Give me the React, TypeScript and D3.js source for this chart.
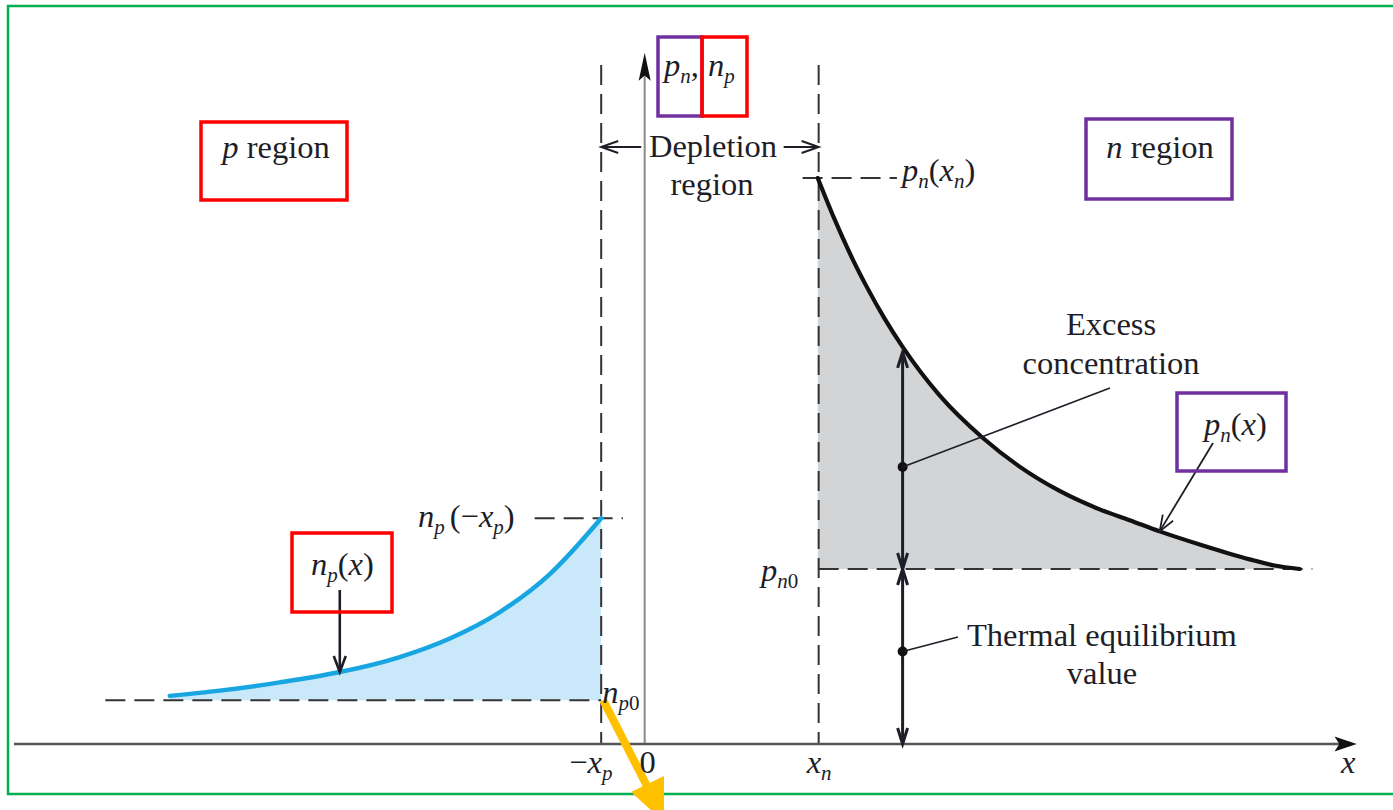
import React from 'react';
import * as d3 from 'd3';

const W = 1393;
const H = 810;

// Depletion-region edges (x) and reference concentrations (arbitrary units)
const edgeP = -0.1; // −x_p
const edgeN = 0.4; // x_n
const npZero = 0.25; // n_p0
const pnZero = 1.0; // p_n0
const npEdge = 1.29; // n_p(−x_p)
const pnEdge = 3.234; // p_n(x_n)

// Minority electrons injected into the p region
const npX = [-1.092, -0.977, -0.839, -0.701, -0.563, -0.448, -0.333, -0.218, -0.1];
const npY = [0.275, 0.305, 0.352, 0.411, 0.497, 0.603, 0.754, 0.971, 1.29];

// Minority holes injected into the n region
const pnX = [0.398, 0.437, 0.478, 0.51, 0.552, 0.593, 0.678, 0.777, 0.862, 0.954, 1.046, 1.115, 1.184, 1.276, 1.391, 1.448, 1.506];
const pnY = [3.234, 2.996, 2.771, 2.615, 2.429, 2.269, 1.992, 1.75, 1.585, 1.446, 1.341, 1.279, 1.215, 1.14, 1.055, 1.02, 1.0];

// Positions where the callouts touch the curves
const npCallIdx = 3; // n_p(x) arrow
const pnCallIdx = 12; // p_n(x) arrow
const excessIdx = 5; // excess / equilibrium double arrows

const FONT = "'Liberation Serif', Tinos, 'Times New Roman', 'DejaVu Serif', serif";
const INK = '#1e1e28';
const RED = '#ff0000';
const PURPLE = '#7030a0';

const x = d3.scaleLinear().domain([-1.45, 1.64]).range([14, 1358]);
const y = d3.scaleLinear().domain([0, 4]).range([744, 44]);

type Pt = [number, number];
const npPts: Pt[] = npX.map((v, i) => [v, npY[i]]);
const pnPts: Pt[] = pnX.map((v, i) => [v, pnY[i]]);

const line = d3
  .line<Pt>()
  .x((d) => x(d[0]))
  .y((d) => y(d[1]))
  .curve(d3.curveMonotoneX);

const npArea = d3
  .area<Pt>()
  .x((d) => x(d[0]))
  .y0(y(npZero))
  .y1((d) => y(d[1]))
  .curve(d3.curveMonotoneX);

const pnArea = d3
  .area<Pt>()
  .x((d) => x(d[0]))
  .y0(y(pnZero))
  .y1((d) => y(d[1]))
  .curve(d3.curveMonotoneX);

function openHead(x1: number, y1: number, x2: number, y2: number, len = 13, half = 5) {
  const a = Math.atan2(y2 - y1, x2 - x1);
  const bx = x2 - len * Math.cos(a);
  const by = y2 - len * Math.sin(a);
  const px = -Math.sin(a) * half;
  const py = Math.cos(a) * half;
  return `M${bx + px},${by + py}L${x2},${y2}L${bx - px},${by - py}`;
}

function Arrow({
  x1, y1, x2, y2, w = 1.6, len = 13, half = 5, both = false,
}: { x1: number; y1: number; x2: number; y2: number; w?: number; len?: number; half?: number; both?: boolean }) {
  return (
    <g stroke={INK} strokeWidth={w} fill="none" strokeLinecap="butt">
      <line x1={x1} y1={y1} x2={x2} y2={y2} />
      <path d={openHead(x1, y1, x2, y2, len, half)} />
      {both && <path d={openHead(x2, y2, x1, y1, len, half)} />}
    </g>
  );
}

const Box = ({ x0, y0, x1, y1, color }: { x0: number; y0: number; x1: number; y1: number; color: string }) => (
  <rect x={x0} y={y0} width={x1 - x0} height={y1 - y0} fill="none" stroke={color} strokeWidth={3.5} />
);

const FS = 32.5;
const SUB = 21;
const DY = 7;

export default function App() {
  const x0 = x(0);
  const yBase = y(0);
  const xP = x(edgeP);
  const xN = x(edgeN);
  const dash = '20 9';
  const mark = pnPts[excessIdx];
  const mx = x(mark[0]);
  const dotTop = (y(mark[1]) + y(pnZero)) / 2 + 9;
  const dotBot = (y(pnZero) + yBase) / 2 - 5;
  const npc = npPts[npCallIdx];
  const pnc = pnPts[pnCallIdx];

  return (
    <svg
      width={W}
      height={H}
      viewBox={`0 0 ${W} ${H}`}
      style={{ position: 'absolute', left: 0, top: 0, background: '#fff', fontFamily: FONT }}
    >
      {/* frame */}
      <rect x={8} y={6} width={1400} height={788} fill="none" stroke="#00b050" strokeWidth={2.5} />

      {/* filled excess-carrier regions */}
      <path d={npArea(npPts) ?? ''} fill="#c9e8f9" />
      <path d={pnArea(pnPts) ?? ''} fill="#d3d4d6" />

      {/* dashed guides */}
      <g stroke="#333" strokeWidth={2} strokeDasharray={dash} fill="none">
        <line x1={xP} y1={y(3.88)} x2={xP} y2={yBase} />
        <line x1={xN} y1={y(3.88)} x2={xN} y2={yBase} />
        <line x1={x(-1.24)} y1={y(npZero)} x2={xP} y2={y(npZero)} />
        <line x1={x(-0.253)} y1={y(npEdge)} x2={x(-0.05)} y2={y(npEdge)} />
        <line x1={x(0.363)} y1={y(pnEdge)} x2={x(0.58)} y2={y(pnEdge)} />
        <line x1={xN} y1={y(pnZero)} x2={x(1.535)} y2={y(pnZero)} />
      </g>

      {/* axes */}
      <line x1={x0} y1={yBase} x2={x0} y2={y(3.86)} stroke="#8a8a8a" strokeWidth={2} />
      <path
        d={`M${x0},${y(3.95)} L${x0 - 6},${y(3.79)} L${x0},${y(3.82)} L${x0 + 6},${y(3.79)} Z`}
        fill="#111"
      />
      <line x1={x(-1.45)} y1={yBase} x2={x(1.6)} y2={yBase} stroke="#555" strokeWidth={2.5} />
      <path
        d={`M${x(1.637)},${yBase} L${x(1.586)},${yBase - 7.5} L${x(1.597)},${yBase} L${x(1.586)},${yBase + 7.5} Z`}
        fill="#111"
      />

      {/* carrier curves */}
      <path d={line(npPts) ?? ''} fill="none" stroke="#17a6e2" strokeWidth={4.5} strokeLinecap="round" />
      <path d={line(pnPts) ?? ''} fill="none" stroke="#111" strokeWidth={4.2} strokeLinecap="round" />

      {/* depletion width arrows */}
      <Arrow x1={xP + 40} y1={147} x2={xP} y2={147} w={2} len={17} half={6} />
      <Arrow x1={xN - 35} y1={147} x2={xN} y2={147} w={2} len={17} half={6} />

      {/* excess and equilibrium double arrows */}
      <Arrow x1={mx} y1={y(pnZero)} x2={mx} y2={y(mark[1]) + 5} w={3} len={16} half={5} both />
      <Arrow x1={mx} y1={y(pnZero)} x2={mx} y2={yBase} w={3} len={16} half={5} both />
      <circle cx={mx} cy={dotTop} r={5} fill="#111" />
      <circle cx={mx} cy={dotBot} r={5} fill="#111" />
      <line x1={mx} y1={dotTop} x2={1110} y2={388} stroke={INK} strokeWidth={1.6} />
      <line x1={mx} y1={dotBot} x2={958} y2={637} stroke={INK} strokeWidth={1.6} />

      {/* curve callouts */}
      <Arrow x1={x(npc[0])} y1={590} x2={x(npc[0])} y2={y(npc[1])} w={2.6} len={16} half={6} />
      <Arrow x1={1213} y1={443} x2={x(pnc[0])} y2={y(pnc[1])} w={1.8} len={16} half={6} />

      {/* highlight arrow */}
      <g fill="#ffc000" stroke="none">
        <line x1={xP + 2} y1={y(npZero)} x2={648} y2={788} stroke="#ffc000" strokeWidth={8} />
        <path d="M631,792 L664,776 L664,822 Z" />
      </g>

      {/* text */}
      <g fill={INK} fontSize={FS} style={{ fontFamily: FONT }}>
        <text x={276} y={158} textAnchor="middle">
          <tspan fontStyle="italic">p</tspan> region
        </text>
        <text x={1160} y={158} textAnchor="middle">
          <tspan fontStyle="italic">n</tspan> region
        </text>
        <text x={713} y={157} textAnchor="middle">Depletion</text>
        <text x={712} y={195} textAnchor="middle">region</text>
        <text x={1111} y={335} textAnchor="middle">Excess</text>
        <text x={1111} y={374} textAnchor="middle">concentration</text>
        <text x={967} y={646}>Thermal equilibrium</text>
        <text x={1102} y={684} textAnchor="middle">value</text>

        {/* p_n, n_p */}
        <text x={664} y={76}>
          <tspan fontStyle="italic">p</tspan>
          <tspan fontStyle="italic" fontSize={SUB} dy={DY}>n</tspan>
          <tspan dy={-DY}>, </tspan>
          <tspan x={708} fontStyle="italic">n</tspan>
          <tspan fontStyle="italic" fontSize={SUB} dy={DY}>p</tspan>
        </text>

        {/* p_n(x) */}
        <text x={1204} y={435}>
          <tspan fontStyle="italic">p</tspan>
          <tspan fontStyle="italic" fontSize={SUB} dy={DY}>n</tspan>
          <tspan dy={-DY}>(</tspan>
          <tspan fontStyle="italic">x</tspan>
          <tspan>)</tspan>
        </text>

        {/* n_p(x) */}
        <text x={311} y={575}>
          <tspan fontStyle="italic">n</tspan>
          <tspan fontStyle="italic" fontSize={SUB} dy={DY}>p</tspan>
          <tspan dy={-DY}>(</tspan>
          <tspan fontStyle="italic">x</tspan>
          <tspan>)</tspan>
        </text>

        {/* n_p(−x_p) */}
        <text x={418} y={527}>
          <tspan fontStyle="italic">n</tspan>
          <tspan fontStyle="italic" fontSize={SUB} dy={DY}>p</tspan>
          <tspan dy={-DY} dx={5}>(−</tspan>
          <tspan fontStyle="italic">x</tspan>
          <tspan fontStyle="italic" fontSize={SUB} dy={DY}>p</tspan>
          <tspan dy={-DY}>)</tspan>
        </text>

        {/* p_n(x_n) */}
        <text x={902} y={181}>
          <tspan fontStyle="italic">p</tspan>
          <tspan fontStyle="italic" fontSize={SUB} dy={DY}>n</tspan>
          <tspan dy={-DY}>(</tspan>
          <tspan fontStyle="italic">x</tspan>
          <tspan fontStyle="italic" fontSize={SUB} dy={DY}>n</tspan>
          <tspan dy={-DY}>)</tspan>
        </text>

        {/* p_n0 */}
        <text x={761} y={581}>
          <tspan fontStyle="italic">p</tspan>
          <tspan fontStyle="italic" fontSize={SUB} dy={DY}>n</tspan>
          <tspan fontSize={SUB}>0</tspan>
        </text>

        {/* n_p0 */}
        <text x={xP + 1} y={y(npZero) + 3}>
          <tspan fontStyle="italic">n</tspan>
          <tspan fontStyle="italic" fontSize={SUB} dy={DY}>p</tspan>
          <tspan fontSize={SUB}>0</tspan>
        </text>

        {/* axis labels */}
        <text x={xP - 32} y={773}>
          <tspan>−</tspan>
          <tspan fontStyle="italic">x</tspan>
          <tspan fontStyle="italic" fontSize={SUB} dy={DY}>p</tspan>
        </text>
        <text x={x0 + 3} y={773} textAnchor="middle">0</text>
        <text x={xN - 12} y={773}>
          <tspan fontStyle="italic">x</tspan>
          <tspan fontStyle="italic" fontSize={SUB} dy={DY}>n</tspan>
        </text>
        <text x={1341} y={773} fontStyle="italic">x</text>
      </g>

      {/* highlight boxes */}
      <Box x0={201} y0={122} x1={347} y1={200} color={RED} />
      <Box x0={1086} y0={119} x1={1232} y1={199} color={PURPLE} />
      <Box x0={658} y0={37} x1={702} y1={116} color={PURPLE} />
      <Box x0={702} y0={37} x1={747} y1={116} color={RED} />
      <Box x0={1177} y0={393} x1={1286} y1={471} color={PURPLE} />
      <Box x0={292} y0={533} x1={392} y1={612} color={RED} />
    </svg>
  );
}
